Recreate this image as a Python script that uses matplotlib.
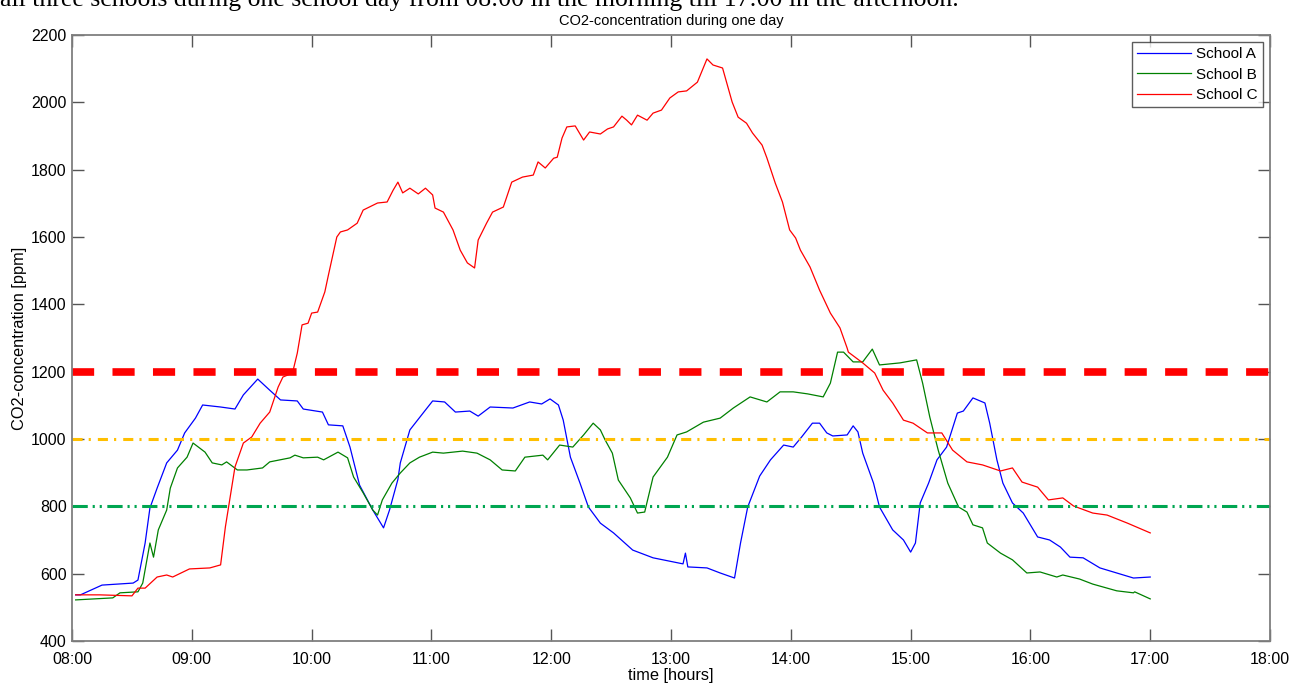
import numpy as np
import matplotlib.pyplot as plt

# time in hours (decimal), CO2 in ppm
time_a = [8.03, 8.07, 8.25, 8.51, 8.55, 8.61, 8.65, 8.71, 8.79, 8.88, 8.94, 9.03, 9.09, 9.24, 9.36,
          9.43, 9.55, 9.65, 9.74, 9.88, 9.93, 10.09, 10.14, 10.26, 10.32, 10.40, 10.51, 10.60, 10.65,
          10.72, 10.74, 10.82, 10.95, 11.01, 11.11, 11.20, 11.32, 11.39, 11.49, 11.68, 11.82, 11.92,
          11.99, 12.06, 12.10, 12.16, 12.24, 12.31, 12.41, 12.52, 12.68, 12.85, 13.10, 13.12, 13.14,
          13.30, 13.41, 13.53, 13.58, 13.64, 13.74, 13.83, 13.94, 14.02, 14.09, 14.18, 14.24, 14.30,
          14.35, 14.47, 14.52, 14.56, 14.60, 14.69, 14.74, 14.85, 14.94, 15.00, 15.04, 15.08, 15.15,
          15.22, 15.30, 15.39, 15.44, 15.52, 15.62, 15.66, 15.72, 15.77, 15.85, 15.94, 16.06, 16.16,
          16.25, 16.33, 16.44, 16.58, 16.72, 16.86, 17.00]
co2_a = [537, 537, 566, 572, 581, 691, 795, 854, 929, 967, 1018, 1062, 1101, 1095, 1089,
         1131, 1178, 1145, 1116, 1113, 1089, 1080, 1042, 1039, 976, 863, 789, 736, 789,
         880, 929, 1027, 1086, 1113, 1110, 1080, 1083, 1068, 1095, 1092, 1110, 1104,
         1119, 1101, 1056, 946, 869, 798, 750, 721, 670, 647, 629, 661, 620,
         617, 602, 587, 691, 798, 890, 938, 982, 976, 1006, 1047, 1047, 1018,
         1009, 1012, 1039, 1021, 958, 869, 798, 730, 700, 664, 691, 810, 869,
         938, 976, 1077, 1083, 1122, 1107, 1047, 938, 869, 810, 780, 709, 700,
         679, 649, 647, 617, 602, 587, 590]

time_b = [8.03, 8.34, 8.40, 8.55, 8.59, 8.65, 8.68, 8.72, 8.79, 8.82, 8.88, 8.96, 9.01, 9.11, 9.17,
          9.25, 9.29, 9.38, 9.46, 9.59, 9.65, 9.82, 9.86, 9.93, 10.05, 10.10, 10.22, 10.30, 10.35,
          10.43, 10.51, 10.55, 10.59, 10.67, 10.74, 10.82, 10.90, 11.01, 11.10, 11.26, 11.38, 11.49,
          11.59, 11.70, 11.78, 11.93, 11.97, 12.07, 12.18, 12.27, 12.35, 12.41, 12.45, 12.51, 12.56,
          12.66, 12.72, 12.78, 12.85, 12.97, 13.05, 13.13, 13.27, 13.41, 13.52, 13.66, 13.80, 13.91,
          14.02, 14.14, 14.27, 14.33, 14.39, 14.44, 14.52, 14.60, 14.68, 14.74, 14.91, 15.05, 15.10,
          15.16, 15.23, 15.31, 15.40, 15.47, 15.52, 15.60, 15.64, 15.75, 15.85, 15.97, 16.08, 16.22,
          16.27, 16.41, 16.52, 16.72, 16.86, 16.87, 17.00]
co2_b = [522, 528, 543, 546, 572, 691, 649, 730, 789, 854, 914, 946, 988, 961, 929,
         923, 932, 908, 908, 914, 932, 944, 952, 944, 946, 938, 961, 944, 887,
         840, 789, 774, 819, 869, 899, 929, 946, 961, 958, 964, 958, 938,
         908, 905, 946, 952, 938, 982, 976, 1012, 1047, 1027, 997, 958, 878,
         825, 780, 783, 887, 946, 1012, 1021, 1050, 1062, 1092, 1125, 1110, 1140,
         1140, 1134, 1125, 1166, 1258, 1258, 1229, 1229, 1267, 1220, 1226, 1235, 1166,
         1065, 967, 869, 798, 783, 745, 736, 691, 661, 641, 602, 605, 590,
         596, 584, 569, 549, 543, 546, 525]

time_c = [8.03, 8.23, 8.50, 8.55, 8.61, 8.71, 8.79, 8.84, 8.98, 9.15, 9.24, 9.28, 9.32, 9.36, 9.43,
          9.50, 9.57, 9.65, 9.72, 9.76, 9.84, 9.88, 9.92, 9.97, 10.00, 10.05, 10.11, 10.14, 10.21,
          10.24, 10.30, 10.38, 10.43, 10.55, 10.63, 10.68, 10.72, 10.76, 10.82, 10.89, 10.95, 11.01,
          11.03, 11.10, 11.18, 11.24, 11.30, 11.36, 11.39, 11.46, 11.51, 11.60, 11.67, 11.76, 11.85,
          11.89, 11.95, 12.02, 12.05, 12.09, 12.13, 12.20, 12.22, 12.27, 12.32, 12.41, 12.47, 12.52,
          12.59, 12.63, 12.67, 12.72, 12.80, 12.85, 12.92, 12.99, 13.06, 13.13, 13.22, 13.30, 13.35,
          13.43, 13.51, 13.56, 13.63, 13.68, 13.76, 13.80, 13.87, 13.93, 13.99, 14.04, 14.08, 14.16,
          14.24, 14.33, 14.41, 14.47, 14.48, 14.60, 14.70, 14.77, 14.85, 14.94, 15.02, 15.14, 15.26,
          15.35, 15.47, 15.60, 15.75, 15.85, 15.93, 16.06, 16.15, 16.27, 16.36, 16.52, 16.64, 16.81,
          17.00]
co2_c = [537, 537, 534, 557, 557, 590, 596, 590, 614, 617, 626, 739, 828, 917, 988,
         1006, 1047, 1080, 1154, 1184, 1196, 1255, 1339, 1344, 1374, 1377, 1437, 1487, 1600,
         1615, 1621, 1641, 1680, 1701, 1704, 1739, 1763, 1731, 1745, 1728, 1745, 1725,
         1686, 1674, 1621, 1561, 1523, 1508, 1591, 1641, 1674, 1689, 1763, 1778, 1784,
         1823, 1805, 1834, 1837, 1894, 1927, 1930, 1918, 1888, 1912, 1906, 1921, 1927,
         1959, 1947, 1933, 1962, 1947, 1968, 1977, 2013, 2031, 2034, 2060, 2129, 2111,
         2102, 2001, 1956, 1938, 1909, 1873, 1835, 1760, 1704, 1621, 1597, 1561, 1511,
         1442, 1374, 1330, 1270, 1258, 1226, 1196, 1145, 1107, 1056, 1047, 1018, 1018,
         967, 932, 923, 905, 914, 872, 857, 819, 825, 801, 780, 774, 750,
         721]

limit_high = 1200
limit_mid = 1000
limit_low = 800

hour_ticks = list(range(8, 19))
hour_labels = ["%02d:00" % h for h in hour_ticks]
ppm_ticks = list(range(400, 2201, 200))

plt.rcParams['font.family'] = ['Liberation Sans', 'DejaVu Sans']
narrow = ['Liberation Sans Narrow', 'Liberation Sans', 'DejaVu Sans']

fig = plt.figure(figsize=(13.03, 6.84), dpi=100)
ax = fig.add_axes([0.0553, 0.0629, 0.9194, 0.8859])

ax.plot(time_a, co2_a, color='#0000ff', lw=0.9, label='School A')
ax.plot(time_b, co2_b, color='#008000', lw=0.9, label='School B')
ax.plot(time_c, co2_c, color='#ff0000', lw=0.9, label='School C')

ax.axhline(limit_high, color='#ff0000', lw=5.5, linestyle=(0, (2.9, 2.4)))
ax.axhline(limit_mid, color='#ffbf00', lw=2.2, linestyle=(0, (3.3, 2.0, 0.7, 2.3)))
ax.axhline(limit_low, color='#00a651', lw=2.2,
           linestyle=(0, (5.0, 1.6, 0.7, 1.6, 0.7, 1.8)))

ax.set_xlim(8, 18)
ax.set_ylim(400, 2200)
ax.set_xticks(hour_ticks)
ax.set_xticklabels(hour_labels)
ax.set_yticks(ppm_ticks)

for s in ax.spines.values():
    s.set_color('#7f7f7f')
    s.set_linewidth(1.3)
ax.tick_params(direction='in', length=8.5, width=1.0, color='#555555',
               labelsize=11.5, top=True, right=True)
ax.tick_params(axis='x', pad=8)
ax.tick_params(axis='y', pad=4)

ax.set_title('CO2-concentration during one day', fontsize=10.5, pad=7, family=narrow)
ax.set_xlabel('time [hours]', fontsize=11.8, labelpad=1, family=narrow)
ax.set_ylabel('CO2-concentration [ppm]', fontsize=11.8, labelpad=3, family=narrow)

leg = ax.legend(loc='upper right', fontsize=11, frameon=True, fancybox=False,
                borderaxespad=0.45, handlelength=3.5, handletextpad=0.35,
                labelspacing=0.42, borderpad=0.35)
leg.get_frame().set_edgecolor('#333333')
leg.get_frame().set_linewidth(1.0)

# caption of the page, cut off at the top of the screenshot
fig.text(0.0, 0.9915, 'all three schools during one school day from 08:00 in the morning '
         'till 17:00 in the afternoon.', fontsize=18.5, va='baseline', ha='left',
         family=['Liberation Serif', 'DejaVu Serif'])

fig.savefig('out.png', dpi=100)
